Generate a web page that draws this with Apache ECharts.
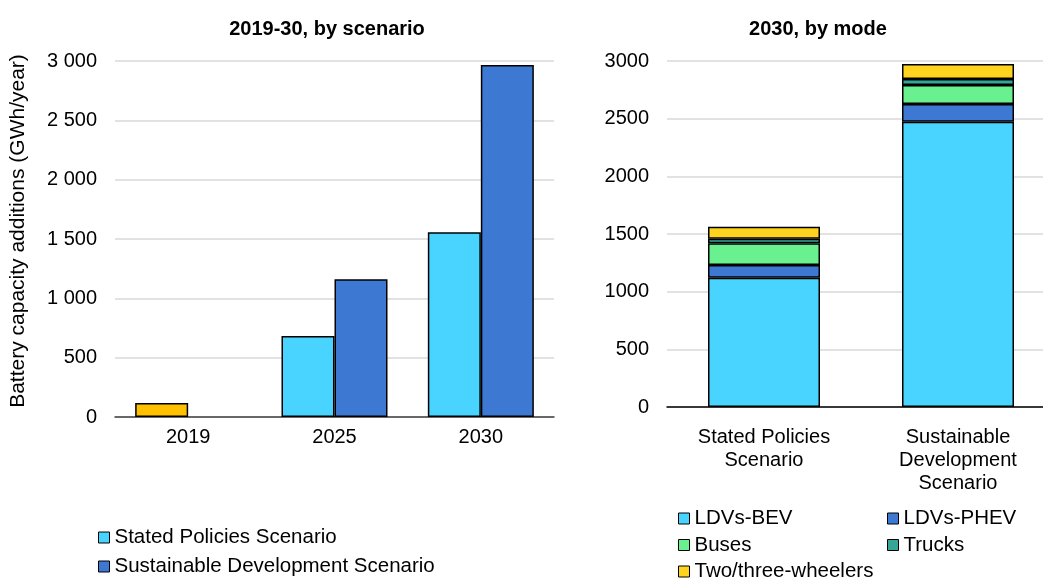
<!DOCTYPE html>
<html>
<head>
<meta charset="utf-8">
<script src="https://cdn.jsdelivr.net/npm/echarts@6/dist/echarts.min.js"></script>
<style>html,body{margin:0;padding:0;background:#fff}#c{width:1043px;height:579px}</style>
</head>
<body>
<div id="c"></div>
<script>
// Left panel: 2019-30, by scenario
const yearCats = ['2019', '2025', '2030'];
const spsValues = [118, 683, 1556];      // 2019 value is historical (drawn in gold)
const sdsValues = [null, 1160, 2966];
const leftTicks = [0, 500, 1000, 1500, 2000, 2500, 3000];

// Right panel: 2030, by mode
const scenarioCats = ['Stated Policies\nScenario', 'Sustainable\nDevelopment\nScenario'];
const bevValues = [1121, 2474];
const phevValues = [110, 153];
const busValues = [188, 165];
const truckValues = [40, 52];
const twoThreeValues = [104, 130];

const FONT = '"Liberation Sans", Arial, sans-serif';
const C = {cyan:'#48D4FF', blue:'#3D78D3', green:'#69F18F', teal:'#34A798', yellow:'#FFD41F', gold:'#FFC000'};
const border = {borderColor:'#000', borderWidth:1.5};

const chart = echarts.init(document.getElementById('c'), null, {renderer:'canvas'});
const txt = {color:'#000', fontFamily:FONT, fontSize:20};
const legTxt = {color:'#000', fontFamily:FONT, fontSize:20.5};

const option = {
  animation:false,
  textStyle:{fontFamily:FONT},
  title:[
    {text:'2019-30, by scenario', left:322, top:14, textAlign:'center', textStyle:{fontFamily:FONT, fontSize:20, fontWeight:'bold', color:'#000'}},
    {text:'2030, by mode', left:813, top:14, textAlign:'center', textStyle:{fontFamily:FONT, fontSize:20, fontWeight:'bold', color:'#000'}}
  ],
  graphic:[{type:'text', x:18, y:231, rotation:Math.PI/2,
    style:{text:'Battery capacity additions (GWh/year)', fill:'#000', font:'21px ' + FONT, textAlign:'center', textVerticalAlign:'middle'}}],
  grid:[
    {left:115, top:61, width:439, height:356, outerBoundsMode:'none', containLabel:false},
    {left:667, top:61, width:388, height:346, outerBoundsMode:'none', containLabel:false}
  ],
  xAxis:[
    {type:'category', gridIndex:0, data:yearCats,
     axisLine:{lineStyle:{color:'#404040', width:1.5}}, axisTick:{show:false},
     axisLabel:Object.assign({margin:10}, txt)},
    {type:'category', gridIndex:1, data:scenarioCats,
     axisLine:{lineStyle:{color:'#000', width:1.5}}, axisTick:{show:false},
     axisLabel:Object.assign({margin:19, lineHeight:23}, txt)}
  ],
  yAxis:[
    {type:'value', gridIndex:0, min:leftTicks[0], max:leftTicks[leftTicks.length-1], interval:500,
     axisLine:{show:false}, axisTick:{show:false},
     splitLine:{lineStyle:{color:'#D9D9D9', width:1.5}},
     axisLabel:Object.assign({margin:18, formatter:v=>String(v).replace(/\B(?=(\d{3})+(?!\d))/g,' ')}, txt)},
    {type:'value', gridIndex:1, min:0, max:3000, interval:500,
     axisLine:{show:false}, axisTick:{show:false},
     splitLine:{lineStyle:{color:'#D9D9D9', width:1.5}},
     axisLabel:Object.assign({margin:18, formatter:v=>String(v)}, txt)}
  ],
  legend:[
    {data:['Stated Policies Scenario','Sustainable Development Scenario'], orient:'vertical', left:93, top:522, height:120,
     itemWidth:11, itemHeight:11, itemGap:8, icon:'rect', textStyle:legTxt,
     itemStyle:{borderColor:'#000', borderWidth:1}},
    {data:['LDVs-BEV','Buses','Two/three-wheelers'], orient:'vertical', left:673, top:503, height:120,
     itemWidth:11, itemHeight:11, itemGap:5.5, icon:'rect', textStyle:legTxt,
     itemStyle:{borderColor:'#000', borderWidth:1}},
    {data:['LDVs-PHEV','Trucks'], orient:'vertical', left:882, top:503, height:120,
     itemWidth:11, itemHeight:11, itemGap:5.5, icon:'rect', textStyle:legTxt,
     itemStyle:{borderColor:'#000', borderWidth:1}}
  ],
  series:[
    {name:'Stated Policies Scenario', type:'bar', xAxisIndex:0, yAxisIndex:0, barWidth:53, barGap:'0%',
     itemStyle:Object.assign({color:C.cyan}, border),
     data:spsValues.map((v,i)=> i===0 ? {value:v, itemStyle:{color:C.gold}} : v)},
    {name:'Sustainable Development Scenario', type:'bar', xAxisIndex:0, yAxisIndex:0, barWidth:53, barGap:'0%',
     itemStyle:Object.assign({color:C.blue}, border), data:sdsValues},
    {name:'LDVs-BEV', type:'bar', stack:'m', xAxisIndex:1, yAxisIndex:1, barWidth:112,
     itemStyle:Object.assign({color:C.cyan}, border), data:bevValues},
    {name:'LDVs-PHEV', type:'bar', stack:'m', xAxisIndex:1, yAxisIndex:1, barWidth:112,
     itemStyle:Object.assign({color:C.blue}, border), data:phevValues},
    {name:'Buses', type:'bar', stack:'m', xAxisIndex:1, yAxisIndex:1, barWidth:112,
     itemStyle:Object.assign({color:C.green}, border), data:busValues},
    {name:'Trucks', type:'bar', stack:'m', xAxisIndex:1, yAxisIndex:1, barWidth:112,
     itemStyle:Object.assign({color:C.teal}, border), data:truckValues},
    {name:'Two/three-wheelers', type:'bar', stack:'m', xAxisIndex:1, yAxisIndex:1, barWidth:112,
     itemStyle:Object.assign({color:C.yellow}, border), data:twoThreeValues}
  ]
};
chart.setOption(option);
</script>
</body>
</html>
